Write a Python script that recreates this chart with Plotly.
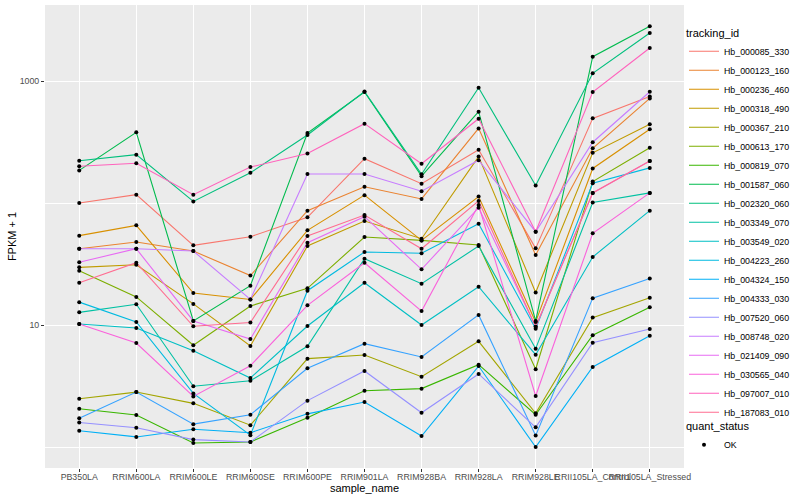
import plotly.graph_objects as go

samples = ["PB350LA", "RRIM600LA", "RRIM600LE", "RRIM600SE", "RRIM600PE", "RRIM901LA",
           "RRIM928BA", "RRIM928LA", "RRIM928LE", "RRII105LA_Control", "RRII105LA_Stressed"]

tracking_ids = ["Hb_000085_330", "Hb_000123_160", "Hb_000236_460", "Hb_000318_490", "Hb_000367_210",
                "Hb_000613_170", "Hb_000819_070", "Hb_001587_060", "Hb_002320_060", "Hb_003349_070",
                "Hb_003549_020", "Hb_004223_260", "Hb_004324_150", "Hb_004333_030", "Hb_007520_060",
                "Hb_008748_020", "Hb_021409_090", "Hb_030565_040", "Hb_097007_010", "Hb_187083_010"]

colors = ["#F8766D", "#EA8331", "#D89000", "#C09B00", "#A3A500", "#7CAE00", "#39B600", "#00BB4E",
          "#00BF7D", "#00C1A3", "#00BFC4", "#00BAE0", "#00B0F6", "#35A2FF", "#9590FF", "#C77CFF",
          "#E76BF3", "#FA62DB", "#FF62BC", "#FF6C91"]

# FPKM + 1 values, one list per gene, in sample order
Hb_000085_330 = [100, 117, 45.0, 52.9, 76.4, 231, 144, 273, 42.5, 494, 745]
Hb_000123_160 = [42.2, 47.9, 40.4, 25.4, 86.5, 136, 108, 409, 37.5, 281, 720]
Hb_000236_460 = [54.0, 65.6, 18.3, 16.2, 59.7, 116, 49.4, 113, 10.6, 192, 402]
Hb_000318_490 = [29.7, 31.2, 14.9, 6.73, 44.4, 71.2, 51.0, 240, 18.5, 258, 442]
Hb_000367_210 = [2.49, 2.82, 2.28, 1.51, 5.30, 5.68, 3.77, 7.35, 1.89, 11.5, 16.7]
Hb_000613_170 = [27.9, 17.0, 6.82, 14.3, 20.0, 52.6, 49.4, 45.3, 4.34, 150, 284]
Hb_000819_070 = [2.06, 1.83, 1.08, 1.10, 1.74, 2.89, 3.01, 4.73, 1.84, 8.24, 14.0]
Hb_001587_060 = [185, 380, 10.8, 21.0, 375, 813, 166, 560, 10.8, 1582, 2807]
Hb_002320_060 = [222, 249, 103, 177, 361, 820, 172, 881, 139, 1156, 2473]
Hb_003349_070 = [12.7, 14.8, 3.15, 3.49, 6.69, 34.9, 21.8, 44.4, 6.40, 101, 121]
Hb_003549_020 = [10.2, 9.45, 6.16, 3.68, 9.81, 22.2, 10.0, 20.6, 5.71, 36.1, 86.5]
Hb_004223_260 = [15.4, 10.6, 2.75, 1.25, 19.1, 39.7, 38.7, 67.7, 9.33, 145, 194]
Hb_004324_150 = [1.36, 1.21, 1.40, 1.31, 1.87, 2.34, 1.23, 4.61, 1.00, 4.53, 8.17]
Hb_004333_030 = [1.72, 2.82, 1.54, 1.84, 4.42, 7.03, 5.47, 12.1, 1.24, 16.6, 24.1]
Hb_007520_060 = [1.59, 1.44, 1.15, 1.10, 2.40, 4.20, 1.91, 3.97, 1.45, 7.16, 9.28]
Hb_008748_020 = [42.2, 42.2, 40.4, 16.2, 173, 173, 125, 224, 58.2, 315, 817]
Hb_021409_090 = [32.7, 42.2, 10.8, 7.68, 47.3, 77.2, 28.6, 91.5, 9.68, 121, 221]
Hb_030565_040 = [10.2, 7.12, 2.60, 4.64, 14.5, 32.4, 13.0, 96.3, 2.62, 56.4, 121]
Hb_097007_010 = [200, 212, 117, 197, 255, 447, 210, 491, 58.2, 813, 1864]
Hb_187083_010 = [22.2, 32.4, 9.76, 10.5, 53.7, 79.7, 42.2, 104, 9.68, 121, 221]

series = [Hb_000085_330, Hb_000123_160, Hb_000236_460, Hb_000318_490, Hb_000367_210,
          Hb_000613_170, Hb_000819_070, Hb_001587_060, Hb_002320_060, Hb_003349_070,
          Hb_003549_020, Hb_004223_260, Hb_004324_150, Hb_004333_030, Hb_007520_060,
          Hb_008748_020, Hb_021409_090, Hb_030565_040, Hb_097007_010, Hb_187083_010]

FONT = "Liberation Sans, Arial, Helvetica, sans-serif"

fig = go.Figure()
for name, vals, col in zip(tracking_ids, series, colors):
    fig.add_trace(go.Scatter(x=samples, y=vals, mode="lines", name=name,
                             line=dict(color=col, width=1.1), legend="legend",
                             hoverinfo="skip"))

all_x = [s for _ in series for s in samples]
all_y = [v for vals in series for v in vals]
fig.add_trace(go.Scatter(x=all_x, y=all_y, mode="markers", name="OK",
                         marker=dict(color="black", size=4, symbol="circle"),
                         legend="legend2"))

fig.update_layout(
    width=800, height=500,
    margin=dict(l=45, r=116, t=5, b=32),
    paper_bgcolor="white", plot_bgcolor="#EBEBEB",
    font=dict(family=FONT, color="black"),
    showlegend=True,
    legend=dict(title=dict(text="tracking_id", font=dict(size=11, color="black")),
                font=dict(size=8.8, color="black"),
                xref="container", yref="container", x=0.855, y=0.955,
                xanchor="left", yanchor="top", bgcolor="rgba(0,0,0,0)",
                tracegroupgap=0, itemwidth=30, maxheight=470),
    legend2=dict(title=dict(text="quant_status", font=dict(size=11, color="black")),
                 font=dict(size=8.8, color="black"),
                 xref="container", yref="container", x=0.855, y=0.168,
                 xanchor="left", yanchor="top", bgcolor="rgba(0,0,0,0)", itemwidth=30),
    xaxis=dict(type="category", categoryorder="array", categoryarray=samples,
               range=[-0.6, 10.6], showgrid=True, gridcolor="white", gridwidth=1.1,
               ticks="outside", ticklen=3, tickcolor="#333333", tickwidth=1,
               tickangle=0, tickfont=dict(size=8.8, color="#4D4D4D"), ticklabelstandoff=-3,
               title=dict(text="sample_name", font=dict(size=11, color="black"), standoff=0),
               showline=False, zeroline=False, automargin=False),
    yaxis=dict(type="log", range=[-0.172, 3.623], tickvals=[10, 1000], ticktext=["10", "1000"],
               showgrid=True, gridcolor="white", gridwidth=1.1,
               minor=dict(tickvals=[1, 100], showgrid=True, gridcolor="white", gridwidth=0.55,
                          ticks=""),
               ticks="outside", ticklen=3, tickcolor="#333333", tickwidth=1,
               tickfont=dict(size=8.8, color="#4D4D4D"),
               title=dict(text="FPKM + 1", font=dict(size=11, color="black"), standoff=0),
               showline=False, zeroline=False, automargin=False),
)

fig.write_html("out.html", config={"displayModeBar": False},
               post_script="document.body.style.margin='0';")
